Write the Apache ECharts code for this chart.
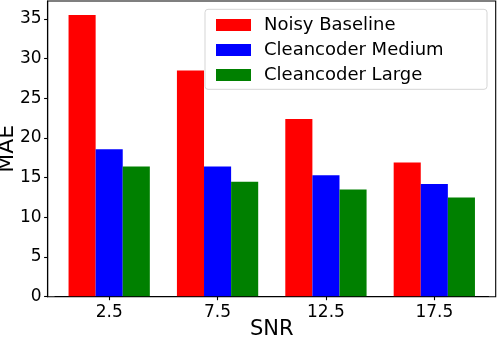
<!DOCTYPE html>
<html>
<head>
<meta charset="utf-8">
<script src="https://cdn.jsdelivr.net/npm/echarts@6/dist/echarts.min.js"></script>
<style>
html, body { margin: 0; padding: 0; background: #fff; }
#chart { width: 498px; height: 338px; }
</style>
</head>
<body>
<div id="chart"></div>
<script>
// 数据
const snrLabels = ['2.5', '7.5', '12.5', '17.5'];
const noisyBaseline = [35.5, 28.5, 22.4, 16.9];
const cleancoderMedium = [18.6, 16.4, 15.3, 14.2];
const cleancoderLarge = [16.4, 14.5, 13.5, 12.5];
const seriesNames = ['Noisy Baseline', 'Cleancoder Medium', 'Cleancoder Large'];
const seriesColors = ['#ff0000', '#0000ff', '#008000'];

const font = 'DejaVu Sans';
const chart = echarts.init(document.getElementById('chart'));

const values = [noisyBaseline, cleancoderMedium, cleancoderLarge];

chart.setOption({
  animation: false,
  textStyle: { fontFamily: font, color: '#000' },
  grid: { left: 55, right: 9.5, top: 1, bottom: 41.3, outerBoundsMode: 'none' },
  legend: {
    orient: 'vertical',
    left: 211,
    top: 11,
    itemWidth: 35,
    itemHeight: 12,
    itemGap: 7,
    icon: 'rect',
    z: 20,
    textStyle: { fontFamily: font, fontSize: 18, color: '#000', padding: [0, 0, 0, 8] },
    data: seriesNames
  },
  xAxis: {
    type: 'category',
    data: snrLabels,
    name: 'SNR',
    nameLocation: 'middle',
    nameGap: 22,
    nameMoveOverlap: false,
    nameTextStyle: { fontFamily: font, fontSize: 21, color: '#000', verticalAlign: 'top' },
    axisLine: { show: true, lineStyle: { color: '#000', width: 1.1 } },
    axisTick: { show: true, alignWithLabel: true, length: 3.5, lineStyle: { color: '#000', width: 1.1 } },
    axisLabel: { fontFamily: font, fontSize: 17, color: '#000', margin: 7 }
  },
  yAxis: {
    type: 'value',
    min: 0,
    max: 37.27,
    interval: 5,
    offset: 7.4,
    name: 'MAE',
    nameLocation: 'middle',
    nameGap: 29,
    nameMoveOverlap: false,
    nameTextStyle: { fontFamily: font, fontSize: 22, color: '#000' },
    axisLine: { show: true, lineStyle: { color: '#000', width: 1.1 } },
    axisTick: { show: true, length: 3.5, lineStyle: { color: '#000', width: 1.1 } },
    splitLine: { show: false },
    axisLabel: {
      fontFamily: font, fontSize: 17, color: '#000', margin: 6,
      showMaxLabel: false,
      formatter: function (v) { return v % 5 === 0 ? String(v) : ''; }
    }
  },
  graphic: [
    { // 坐标框
      type: 'rect', z: 10, silent: true,
      shape: { x: 47.7, y: 1, width: 448, height: 295.7 },
      style: { fill: 'none', stroke: '#000', lineWidth: 1.1 }
    },
    { // 图例框
      type: 'rect', z: 15, silent: true,
      shape: { x: 205, y: 9.3, width: 282, height: 80, r: 3 },
      style: { fill: 'rgba(255,255,255,0.8)', stroke: '#d5d5d5', lineWidth: 1 }
    }
  ],
  series: seriesNames.map(function (name, i) {
    return {
      name: name,
      type: 'bar',
      data: values[i],
      barGap: '0%',
      barCategoryGap: '25%',
      itemStyle: { color: seriesColors[i] }
    };
  })
});
</script>
</body>
</html>
